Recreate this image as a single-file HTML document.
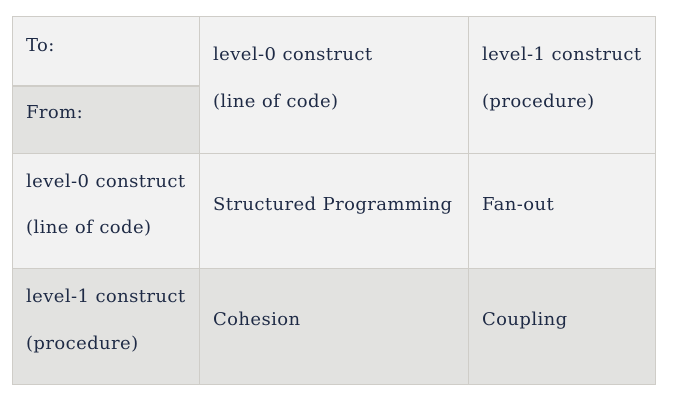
<!DOCTYPE html>
<html><head><style>
body{margin:0;background:#fff;width:673px;height:401px;position:relative;font-family:"DejaVu Serif",serif;font-size:18px;letter-spacing:0.4px;color:#1e2a45;}
.b{position:absolute;box-sizing:border-box;}
.t{position:absolute;white-space:nowrap;line-height:20px;}
</style></head><body>
<div class="b" style="left:12px;top:16px;width:644px;height:369px;border:1px solid #cfcdc8;background:#f2f2f2"></div>
<div class="b" style="left:12px;top:85px;width:188px;height:69px;background:#e2e2e0;border-top:2px solid #cfcdc8;border-left:1px solid #cfcdc8"></div>
<div class="b" style="left:12px;top:268px;width:644px;height:117px;background:#e2e2e0;border:1px solid #cfcdc8"></div>
<div class="b" style="left:199px;top:16px;width:1px;height:369px;background:#cfcdc8"></div>
<div class="b" style="left:468px;top:16px;width:1px;height:369px;background:#cfcdc8"></div>
<div class="b" style="left:12px;top:153px;width:644px;height:1px;background:#cfcdc8"></div>
<div class="t" style="left:26px;top:36px">To:</div>
<div class="t" style="left:26px;top:103px">From:</div>
<div class="t" style="left:213px;top:45px">level-0 construct</div>
<div class="t" style="left:213px;top:92px">(line of code)</div>
<div class="t" style="left:482px;top:45px">level-1 construct</div>
<div class="t" style="left:482px;top:92px">(procedure)</div>
<div class="t" style="left:26px;top:172px">level-0 construct</div>
<div class="t" style="left:26px;top:218px">(line of code)</div>
<div class="t" style="left:213px;top:195px">Structured Programming</div>
<div class="t" style="left:482px;top:195px">Fan-out</div>
<div class="t" style="left:26px;top:287px">level-1 construct</div>
<div class="t" style="left:26px;top:334px">(procedure)</div>
<div class="t" style="left:213px;top:310px">Cohesion</div>
<div class="t" style="left:482px;top:310px">Coupling</div>
</body></html>
